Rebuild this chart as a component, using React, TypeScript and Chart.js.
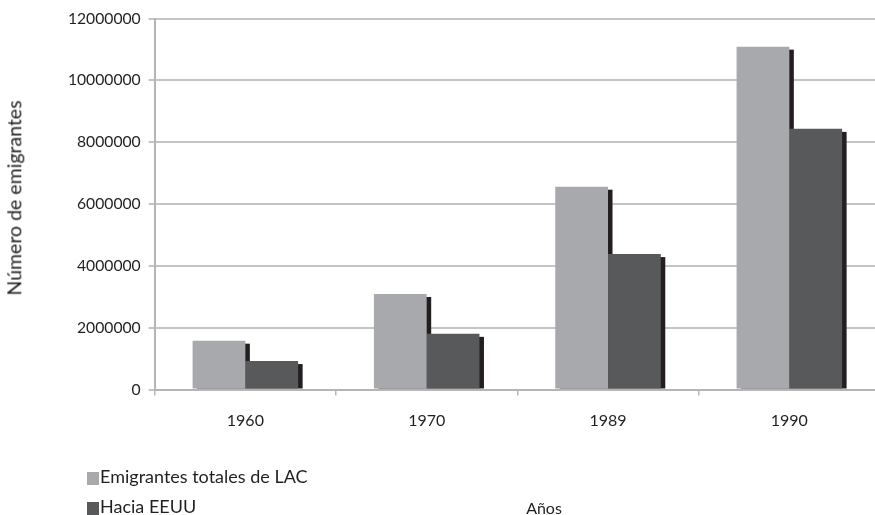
import React, { useEffect, useRef } from 'react';
import { Chart, registerables } from 'chart.js';

Chart.register(...registerables);

const categories = ['1960', '1970', '1989', '1990'];
const totalLAC = [1580000, 3090000, 6560000, 11090000];
const haciaEEUU = [920000, 1800000, 4380000, 8430000];
const seriesNames = ['Emigrantes totales de LAC', 'Hacia EEUU'];
const yAxisTitle = 'Número de emigrantes';
const xAxisTitle = 'Años';

const LIGHT = '#a7a9ac';
const DARK = '#58595b';
const SHADOW = '#231f20';
const TEXT = '#231f20';
const FONT = 'Lato, "Open Sans", sans-serif';

const shadowPlugin = {
  id: 'barShadow',
  beforeDatasetsDraw(chart: any) {
    const ctx = chart.ctx;
    ctx.save();
    ctx.fillStyle = SHADOW;
    chart.data.datasets.forEach((_ds: any, i: number) => {
      const meta = chart.getDatasetMeta(i);
      meta.data.forEach((bar: any) => {
        const { x, y, base, width } = bar.getProps(['x', 'y', 'base', 'width'], true);
        ctx.fillRect(x - width / 2 + 4.5, y + 3, width, base - y - 3);
      });
    });
    ctx.restore();
  },
};

export default function App() {
  const canvasRef = useRef<HTMLCanvasElement | null>(null);

  useEffect(() => {
    if (!canvasRef.current) return;
    Chart.defaults.font.family = FONT;
    const chart = new Chart(canvasRef.current, {
      type: 'bar',
      data: {
        labels: categories,
        datasets: [
          {
            label: seriesNames[0],
            data: totalLAC,
            backgroundColor: LIGHT,
            borderWidth: 0,
            barPercentage: 1,
            categoryPercentage: 0.582,
          },
          {
            label: seriesNames[1],
            data: haciaEEUU,
            backgroundColor: DARK,
            borderWidth: 0,
            barPercentage: 1,
            categoryPercentage: 0.582,
          },
        ],
      },
      options: {
        animation: false,
        responsive: false,
        devicePixelRatio: 1,
        layout: { padding: { top: 18.5, left: 0, right: 0, bottom: 0 } },
        plugins: {
          legend: { display: false },
          tooltip: { enabled: false },
        },
        scales: {
          x: {
            grid: {
              offset: true,
              drawOnChartArea: false,
              drawTicks: true,
              tickLength: 6,
              color: '#b5b5b5',
              lineWidth: 1.5,
            },
            border: { color: '#b5b5b5', width: 2 },
            ticks: { color: TEXT, font: { size: 16, family: FONT }, padding: 16 },
            afterFit: (s: any) => {
              s.height = 125.5;
            },
          },
          y: {
            min: 0,
            max: 12000000,
            ticks: {
              stepSize: 2000000,
              callback: (v: any) => String(v),
              color: TEXT,
              font: { size: 15.7, family: FONT },
              padding: 8,
            },
            grid: { color: '#c4c4c4', lineWidth: 2, tickLength: 6 },
            border: { color: '#b5b5b5', width: 2 },
            afterFit: (s: any) => {
              s.width = 154.7;
            },
          },
        },
      },
      plugins: [shadowPlugin],
    });
    return () => chart.destroy();
  }, []);

  const textStyle: React.CSSProperties = {
    position: 'absolute',
    fontFamily: FONT,
    color: TEXT,
    whiteSpace: 'nowrap',
  };

  return (
    <div
      style={{
        position: 'fixed',
        left: 0,
        top: 0,
        width: 875,
        height: 515,
        overflow: 'hidden',
        background: '#fff',
      }}
    >
      <canvas ref={canvasRef} width={880} height={515} style={{ position: 'absolute', left: 0, top: 0 }} />
      <div
        style={{
          ...textStyle,
          left: 14,
          top: 198,
          fontSize: 19.5,
          lineHeight: '23.4px',
          transform: 'translate(-50%, -50%) rotate(-90deg)',
        }}
      >
        {yAxisTitle}
      </div>
      <div style={{ position: 'absolute', left: 87, top: 471.5, width: 12, height: 13, background: LIGHT }} />
      <div style={{ ...textStyle, left: 100, top: 466, fontSize: 18, lineHeight: '21.6px' }}>
        {seriesNames[0]}
      </div>
      <div style={{ position: 'absolute', left: 87, top: 501.5, width: 12, height: 13, background: DARK }} />
      <div style={{ ...textStyle, left: 100, top: 496, fontSize: 18, lineHeight: '21.6px' }}>
        {seriesNames[1]}
      </div>
      <div
        style={{
          ...textStyle,
          left: 544,
          top: 498,
          fontSize: 16,
          lineHeight: '19.2px',
          transform: 'translateX(-50%)',
        }}
      >
        {xAxisTitle}
      </div>
    </div>
  );
}
